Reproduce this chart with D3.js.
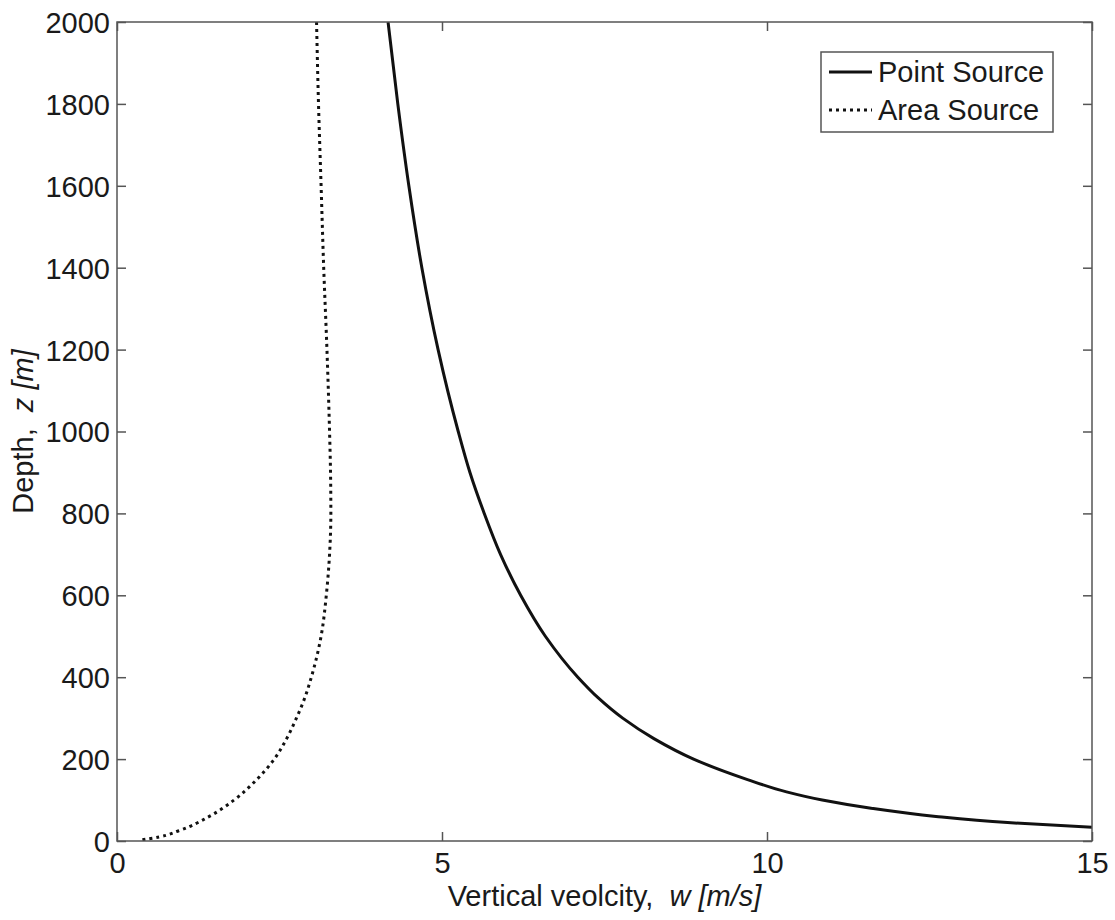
<!DOCTYPE html>
<html><head><meta charset="utf-8">
<script src="https://cdn.jsdelivr.net/npm/d3@7"></script>
<style>body{margin:0;background:#fff}svg{display:block}text{font-family:"Liberation Sans",Arial,sans-serif;fill:#1a1a1a}</style>
</head><body>
<svg id="c" width="1115" height="920"></svg>
<script>
const depth = [2000,1800,1600,1400,1200,1000,900,800,700,600,500,400,350,300,250,200,150,120,100,80,60,45,33];
const pointSource = [4.17,4.32,4.49,4.69,4.94,5.25,5.43,5.65,5.90,6.21,6.59,7.09,7.40,7.78,8.26,8.87,9.7,10.3,10.85,11.6,12.6,13.7,15.1];
const areaDepth = [2000,1800,1600,1400,1200,1000,900,800,700,600,500,400,350,300,250,200,150,100,60,25,10,2];
const areaSource = [3.07,3.10,3.14,3.18,3.23,3.27,3.285,3.29,3.27,3.22,3.14,2.99,2.89,2.76,2.61,2.42,2.15,1.80,1.42,0.95,0.65,0.35];
const xTicks = [0,5,10,15];
const yTicks = [0,200,400,600,800,1000,1200,1400,1600,1800,2000];
const seriesNames = ["Point Source","Area Source"];

const svg = d3.select("#c");
const L=117,R=1092,T=22,B=841;
const x = d3.scaleLinear().domain([0,15]).range([L,R]);
const y = d3.scaleLinear().domain([0,2000]).range([B,T]);
const axisColor="#555", tl=9, fs=29;

svg.append("defs").append("clipPath").attr("id","clip").append("rect")
  .attr("x",L).attr("y",T).attr("width",R-L).attr("height",B-T);

const g = svg.append("g").attr("clip-path","url(#clip)");
const line = d3.line().curve(d3.curveMonotoneY);
g.append("path").attr("d", line(depth.map((z,i)=>[x(pointSource[i]),y(z)])))
  .attr("fill","none").attr("stroke","#111").attr("stroke-width",3);
g.append("path").attr("d", line(areaDepth.map((z,i)=>[x(areaSource[i]),y(z)])))
  .attr("fill","none").attr("stroke","#111").attr("stroke-width",3).attr("stroke-dasharray","3,4");

svg.append("rect").attr("x",L).attr("y",T).attr("width",R-L).attr("height",B-T)
  .attr("fill","none").attr("stroke",axisColor).attr("stroke-width",1.5);

const fmt = d3.format("d");
const xb = svg.append("g").attr("transform",`translate(0,${B})`)
  .call(d3.axisBottom(x).tickValues(xTicks).tickFormat(fmt).tickSizeInner(-tl).tickSizeOuter(0).tickPadding(11));
const xt = svg.append("g").attr("transform",`translate(0,${T})`)
  .call(d3.axisTop(x).tickValues(xTicks).tickSizeInner(-tl).tickSizeOuter(0).tickFormat(""));
const yl = svg.append("g").attr("transform",`translate(${L},0)`)
  .call(d3.axisLeft(y).tickValues(yTicks).tickFormat(fmt).tickSizeInner(-tl).tickSizeOuter(0).tickPadding(7));
const yr = svg.append("g").attr("transform",`translate(${R},0)`)
  .call(d3.axisRight(y).tickValues(yTicks).tickSizeInner(-tl).tickSizeOuter(0).tickFormat(""));
[xb,xt,yl,yr].forEach(a=>{
  a.select(".domain").remove();
  a.selectAll(".tick line").attr("stroke",axisColor).attr("stroke-width",1.5);
  a.selectAll(".tick text").attr("font-size",fs).attr("font-family","Liberation Sans, Arial, sans-serif").attr("fill","#1a1a1a");
});
yl.selectAll(".tick text").attr("dy","0.36em");
xb.selectAll(".tick text").attr("dy","0.71em");

const xl = svg.append("text").attr("x",(L+R)/2).attr("y",906).attr("text-anchor","middle")
  .attr("font-size",fs).attr("xml:space","preserve").style("white-space","pre");
xl.append("tspan").text("Vertical veolcity,  ");
xl.append("tspan").attr("font-style","italic").text("w [m/s]");
const ylab = svg.append("text").attr("transform",`translate(33,${(T+B)/2}) rotate(-90)`).attr("text-anchor","middle")
  .attr("font-size",fs).attr("xml:space","preserve").style("white-space","pre");
ylab.append("tspan").text("Depth,  ");
ylab.append("tspan").attr("font-style","italic").text("z [m]");

const lg = svg.append("g");
lg.append("rect").attr("x",821).attr("y",52).attr("width",232).attr("height",80)
  .attr("fill","#fff").attr("stroke",axisColor).attr("stroke-width",1.5);
const ly=[72,110];
seriesNames.forEach((n,i)=>{
  lg.append("line").attr("x1",829).attr("x2",872).attr("y1",ly[i]).attr("y2",ly[i])
    .attr("stroke","#111").attr("stroke-width",3).attr("stroke-dasharray",i?"3,4":null);
  lg.append("text").attr("x",878).attr("y",ly[i]).attr("dy","0.36em").attr("font-size",fs).text(n);
});
</script>
</body></html>
